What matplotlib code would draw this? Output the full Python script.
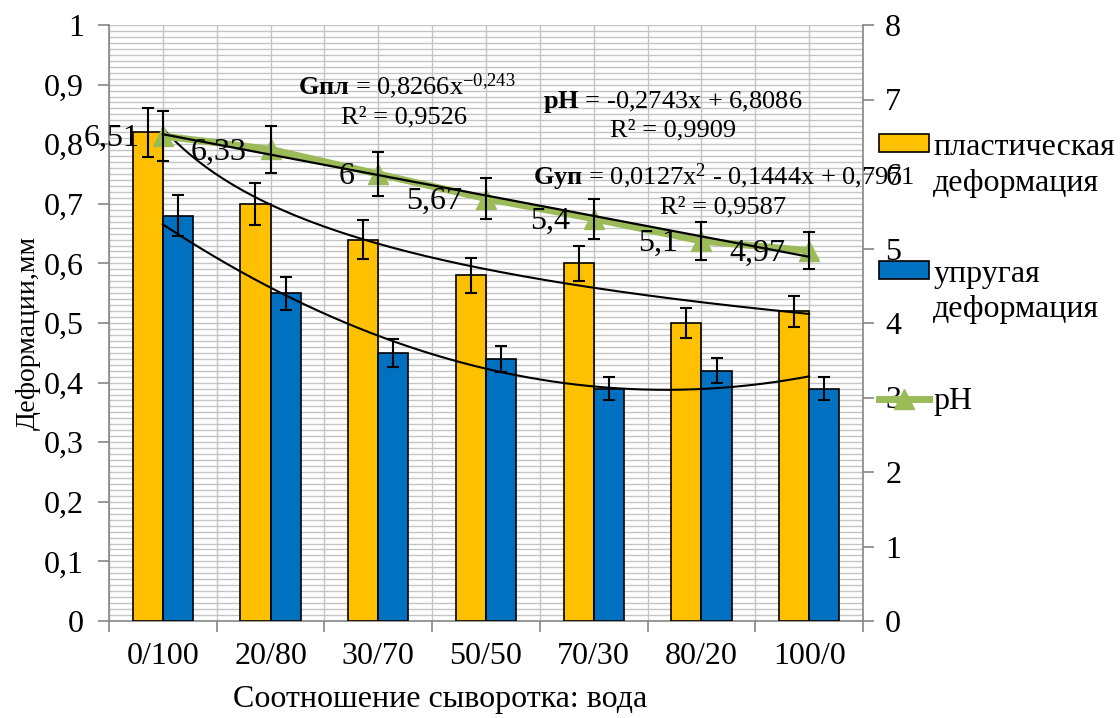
import numpy as np
import matplotlib
matplotlib.use("Agg")
import matplotlib.pyplot as plt
from matplotlib.ticker import MultipleLocator, FixedLocator, FuncFormatter
from matplotlib.patches import Patch, Rectangle
from matplotlib.lines import Line2D
from matplotlib.legend_handler import HandlerPatch

plt.rcParams['font.family'] = ['Liberation Serif', 'DejaVu Serif']
plt.rcParams['mathtext.fontset'] = 'custom'
plt.rcParams['mathtext.rm'] = 'Liberation Serif'
plt.rcParams['mathtext.bf'] = 'Liberation Serif:bold'
plt.rcParams['mathtext.it'] = 'Liberation Serif:italic'
plt.rcParams['axes.unicode_minus'] = False

# data
categories = ['0/100', '20/80', '30/70', '50/50', '70/30', '80/20', '100/0']
plastic = [0.82, 0.70, 0.64, 0.58, 0.60, 0.50, 0.52]
elastic = [0.68, 0.55, 0.45, 0.44, 0.39, 0.42, 0.39]
ph = [6.51, 6.33, 6.00, 5.67, 5.40, 5.10, 4.97]
plastic_err = [0.041, 0.035, 0.032, 0.029, 0.030, 0.025, 0.026]
elastic_err = [0.034, 0.028, 0.023, 0.022, 0.020, 0.021, 0.020]
ph_err = [0.33, 0.32, 0.30, 0.28, 0.27, 0.26, 0.25]
ph_labels = ['6,51', '6,33', '6', '5,67', '5,4', '5,1', '4,97']

ORANGE = '#FFC000'
BLUE = '#0070C0'
GREEN = '#9BBB59'
GRID = '#C4C4C4'
AXIS = '#868686'
FS = 23      # ticks, legend, axis title, data labels
FS_EQ = 19   # trendline equations

W, H = 1120, 718
fig = plt.figure(figsize=(W / 100, H / 100), dpi=100)
ax = fig.add_axes([109 / W, 1 - 621 / H, (863 - 109) / W, (621 - 25) / H])

x = np.arange(len(categories))
bw = 0.28
err_kw = dict(ecolor='black', elinewidth=1.5, capsize=4.3, capthick=1.5)
ax.bar(x - bw / 2, plastic, bw, color=ORANGE, edgecolor='black', linewidth=1.2,
       yerr=plastic_err, error_kw=err_kw, zorder=3)
ax.bar(x + bw / 2, elastic, bw, color=BLUE, edgecolor='black', linewidth=1.2,
       yerr=elastic_err, error_kw=err_kw, zorder=3)

# trendlines (Excel numbers the categories 1..n)
t = x + 1.0
tt = np.linspace(1, len(x), 200)
b, ln_a = np.polyfit(np.log(t), np.log(plastic), 1)
ax.plot(tt - 1, np.exp(ln_a) * tt ** b, color='black', lw=1.5, zorder=4)
q = np.polyfit(t, elastic, 2)
ax.plot(tt - 1, np.polyval(q, tt), color='black', lw=1.5, zorder=4)

ax.set_xlim(-0.5, len(x) - 0.5)
ax.set_ylim(0, 1)
ax.yaxis.set_major_locator(MultipleLocator(0.1))
ax.yaxis.set_minor_locator(MultipleLocator(0.01))
ax.yaxis.set_major_formatter(FuncFormatter(lambda v, p: ('%g' % round(v, 1)).replace('.', ',')))
ax.xaxis.set_major_locator(FixedLocator(np.arange(-0.5, len(x), 1.0)))
ax.xaxis.set_major_formatter(FuncFormatter(lambda v, p: ''))
ax.set_xticks(x, categories, minor=True)
ax.grid(which='both', color=GRID, lw=1.0, zorder=0)
ax.set_axisbelow(True)
ax.tick_params(axis='both', which='major', length=8, width=1.2, color=AXIS, labelsize=FS)
ax.tick_params(axis='y', which='major', pad=10)
ax.tick_params(axis='both', which='minor', length=0, labelsize=FS)
ax.tick_params(axis='x', which='minor', pad=15)
for s in ['top', 'right']:
    ax.spines[s].set_visible(False)
for s in ['left', 'bottom']:
    ax.spines[s].set_color(AXIS)
    ax.spines[s].set_linewidth(1.2)

# pH on the right axis
ax2 = ax.twinx()
ax2.set_ylim(0, 8)
ax2.yaxis.set_major_locator(MultipleLocator(1))
ax2.plot(x, ph, color=GREEN, lw=5, marker='^', ms=15, zorder=3)
ax2.errorbar(x, ph, yerr=ph_err, fmt='none', zorder=5, **err_kw)
a1, a0 = np.polyfit(t, ph, 1)
ax2.plot(x, a1 * t + a0, color='black', lw=1.6, zorder=4)
for xi, yi, lab in zip(x, ph, ph_labels):
    ax2.annotate(lab, (xi, yi), xytext=(-17, -2), textcoords='offset points',
                 ha='right', va='center', fontsize=FS)
ax2.tick_params(axis='y', length=8, width=1.2, color=AXIS, labelsize=FS, pad=8)
for s in ['top', 'left', 'bottom']:
    ax2.spines[s].set_visible(False)
ax2.spines['right'].set_color(AXIS)
ax2.spines['right'].set_linewidth(1.2)


# trendline equations
def ftext(px, py, s):
    fig.text(px / W, 1 - py / H, s, fontsize=FS_EQ, ha='left', va='center')


ftext(298, 86, r'$\mathbf{Gпл}$ = 0,8266x$^{\mathrm{-0{,}243}}$')
ftext(341, 117, 'R² = 0,9526')
ftext(543, 102, r'$\mathbf{pH}$ = -0,2743x + 6,8086')
ftext(610, 130, 'R² = 0,9909')
ftext(533, 177, r'$\mathbf{Gуп}$ = 0,0127x$^{\mathrm{2}}$ - 0,1444x + 0,7971')
ftext(660, 207, 'R² = 0,9587')

fig.text(440 / W, 1 - 700 / H, 'Соотношение сыворотка: вода', fontsize=FS,
         ha='center', va='center')
fig.text(28 / W, 1 - 333 / H, 'Деформации,мм', fontsize=20, rotation=90,
         ha='center', va='center')


# legend: the swatch sits next to the first line of a two-line label
def top_patch(legend, orig_handle, xdescent, ydescent, width, height, fontsize):
    return Rectangle((-xdescent, -ydescent + 0.68 * fontsize), width, height)


handles = [Patch(facecolor=ORANGE, edgecolor='black', lw=1.2),
           Patch(facecolor=BLUE, edgecolor='black', lw=1.2),
           Line2D([0], [0], color=GREEN, lw=5, marker='^', ms=15)]
labels = ['пластическая\nдеформация', 'упругая\nдеформация', 'pH']
hp = HandlerPatch(patch_func=top_patch)
leg = fig.legend(handles, labels, loc='upper left', bbox_to_anchor=(879 / W, 1 - 133 / H),
                 frameon=False, fontsize=FS, handlelength=1.55, handleheight=0.5,
                 handletextpad=0.15, labelspacing=1.95, borderpad=0, borderaxespad=0,
                 handler_map={Patch: hp})
for txt in leg.get_texts():
    txt.set_linespacing(1.3)

fig.savefig('out.png', dpi=100)
